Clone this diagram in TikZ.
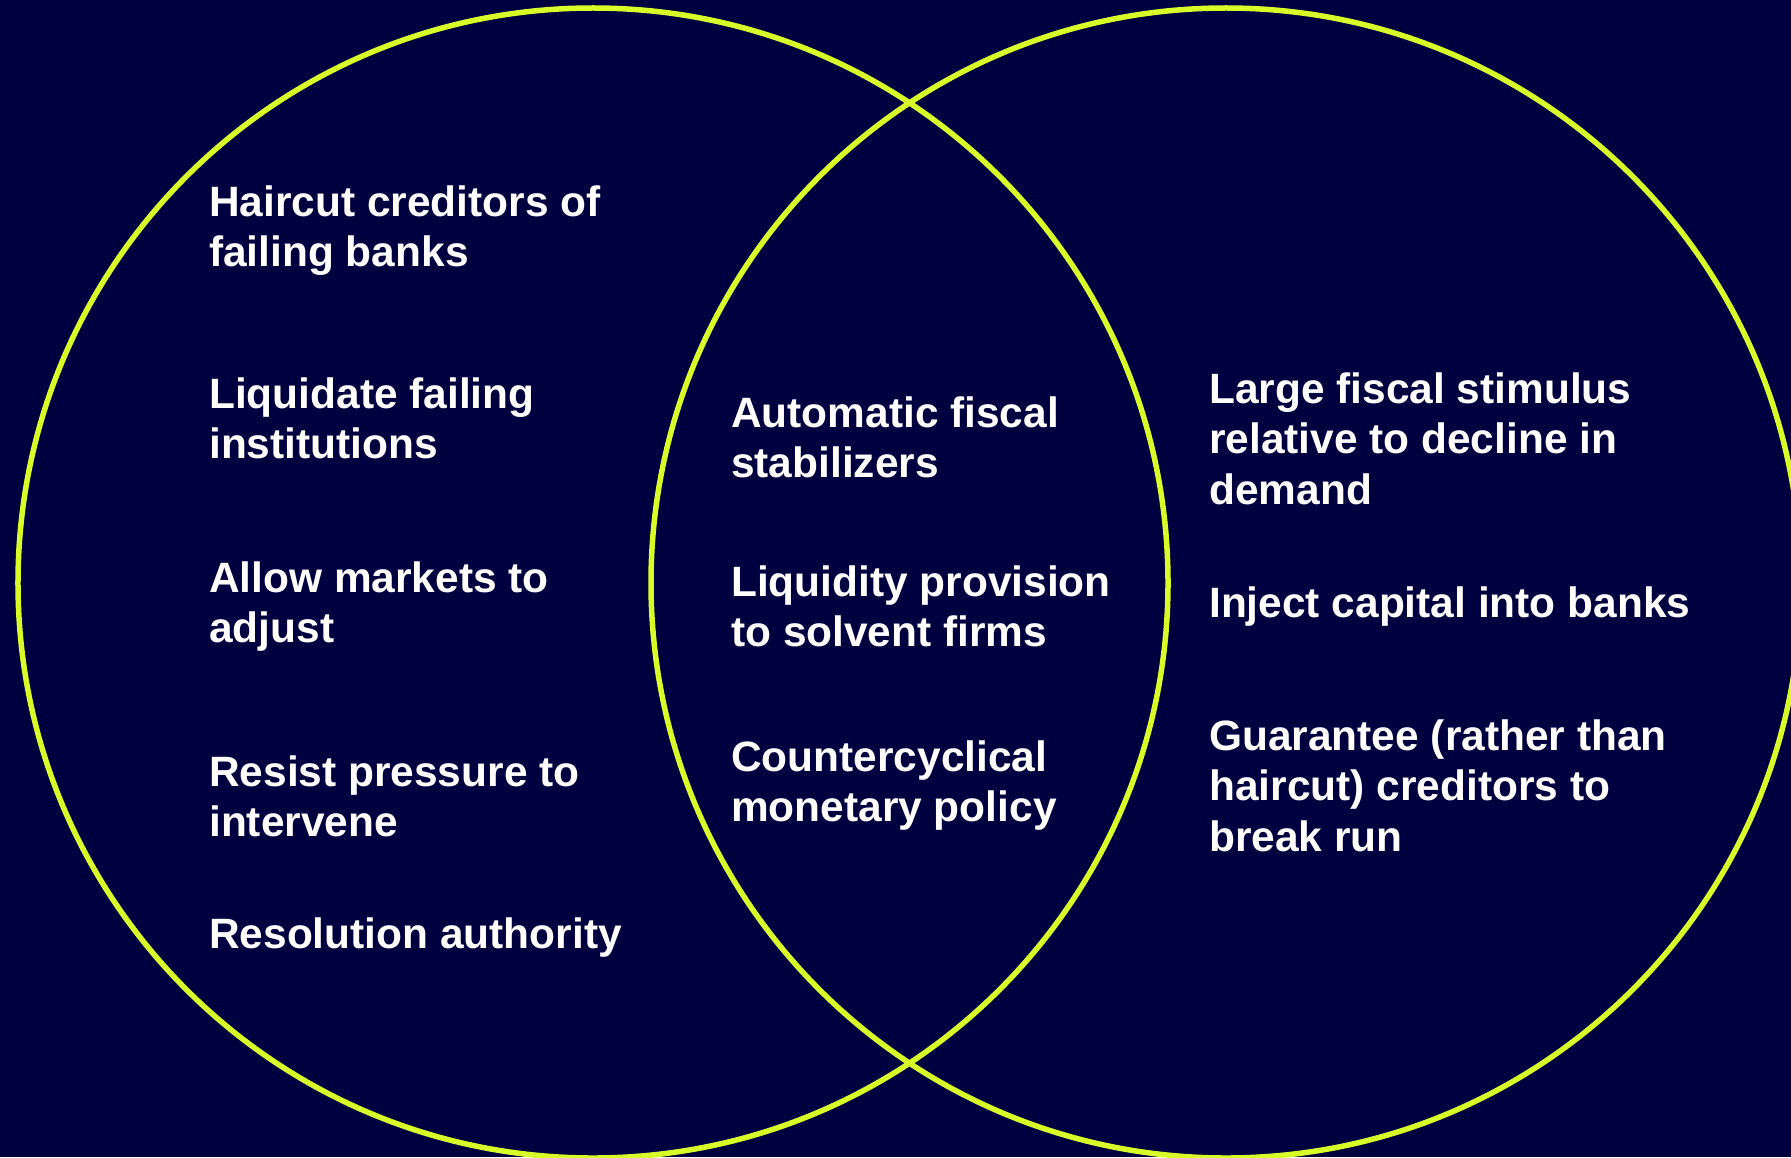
\documentclass[tikz,border=0pt]{standalone}
\usepackage{fontspec}
\setmainfont{Liberation Sans}
\definecolor{navy}{RGB}{0,0,64}
\definecolor{lime}{RGB}{216,252,40}
\tikzset{
  ring/.style={draw=lime, line width=5.5bp},
  label/.style={anchor=base west, inner sep=0pt, text=white,
    font=\fontsize{42.6}{51}\selectfont\bfseries}
}
\newcommand{\stack}[1]{\vtop{\halign{##\hfil\cr#1\crcr}}}
\begin{document}
\begin{tikzpicture}[x=1bp,y=-1bp]
  \useasboundingbox (0,0) rectangle (1791,1157);
  \fill[navy] (0,0) rectangle (1791,1157);
  \begin{scope}
    \clip (0,0) rectangle (1791,1157);
    \draw[ring] (593,583) circle[radius=575bp];
    \draw[ring] (1226,583) circle[radius=575bp];
  \end{scope}
  % left set
  \node[label] (haircut) at (209,216) {\stack{Haircut creditors of\cr failing banks}};
  \node[label] (liquidate) at (209,408) {\stack{Liquidate failing\cr institutions}};
  \node[label] (allow) at (209,592) {\stack{Allow markets to\cr adjust}};
  \node[label] (resist) at (209,786) {\stack{Resist pressure to\cr intervene}};
  \node[label] (resolution) at (209,948) {Resolution authority};
  % overlap
  \node[label] (automatic) at (731,427) {\stack{Automatic fiscal\cr stabilizers}};
  \node[label] (liquidity) at (731,596) {\stack{Liquidity provision\cr to solvent firms}};
  \node[label] (counter) at (731,771) {\stack{Countercyclical\cr monetary policy}};
  % right set
  \node[label] (large) at (1209,403) {\stack{Large fiscal stimulus\cr relative to decline in\cr demand}};
  \node[label] (inject) at (1209,617) {Inject capital into banks};
  \node[label] (guarantee) at (1209,750) {\stack{Guarantee (rather than\cr haircut) creditors to\cr break run}};
\end{tikzpicture}
\end{document}
